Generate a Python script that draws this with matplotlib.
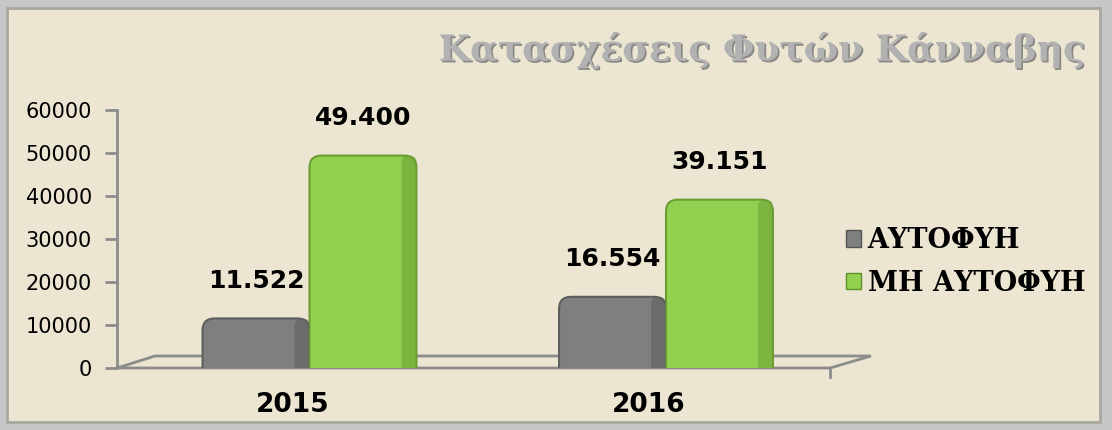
import matplotlib
matplotlib.use("Agg")
import matplotlib.pyplot as plt
import matplotlib.patheffects as pe
from matplotlib.patches import FancyBboxPatch, Rectangle, Patch, Polygon
from matplotlib.transforms import ScaledTranslation

# data
YEARS = ["2015", "2016"]
AUTOFYI = [11522, 16554]
MH_AUTOFYI = [49400, 39151]
SERIES_NAMES = ["ΑΥΤΟΦΥΗ", "ΜΗ ΑΥΤΟΦΥΗ"]
TITLE = "Κατασχέσεις Φυτών Κάνναβης"

GRAY = "#7F7F7F"
GREEN = "#92D050"
BG = "#EBE5D1"

W, H = 1112, 430
fig = plt.figure(figsize=(W / 100, H / 100), dpi=100, facecolor="#C6C6C6")

# beige panel with bevel-ish border
fig.patches.append(Rectangle((7 / W, 8 / H), 1093 / W, 414 / H, transform=fig.transFigure,
                             facecolor=BG, edgecolor="#A8A8A0", linewidth=2, zorder=-5))

ax = fig.add_axes([117 / W, 62 / H, 713 / W, 258 / H])
ax.set_facecolor("none")
ax.set_xlim(-0.54, 1.46)
ax.set_ylim(0, 60000)

xs = list(range(len(YEARS)))
bw = 0.3
b1 = ax.bar([x - bw / 2 for x in xs], AUTOFYI, bw, color=GRAY)
b2 = ax.bar([x + bw / 2 for x in xs], MH_AUTOFYI, bw, color=GREEN)

# rounded bars (radius ~12px), bottom corners pushed under the floor
px_x = 713 / 2.0
px_y = 258 / 60000
rx = 12 / px_x
ry = 12 / px_y
for bars, fc, side in ((b1, GRAY, "#5E5E5E"), (b2, GREEN, "#6B9E32")):
    for b in bars:
        x0, w, h = b.get_x(), b.get_width(), b.get_height()
        b.remove()
        ax.add_patch(FancyBboxPatch((x0, -ry), w, h + ry,
                                    boxstyle=f"round,pad=0,rounding_size={rx}",
                                    mutation_aspect=ry / rx, facecolor=fc,
                                    edgecolor=side, linewidth=1.5, zorder=3))
        # darker right edge for a bit of depth
        ax.add_patch(FancyBboxPatch((x0 + w * 0.86, -ry), w * 0.14, h + ry,
                                    boxstyle=f"round,pad=0,rounding_size={rx * 0.6}",
                                    mutation_aspect=ry / rx, facecolor=side,
                                    edgecolor="none", alpha=0.55, zorder=4))
        ax.annotate(f"{int(h):,}".replace(",", "."), xy=(x0 + w / 2, h),
                    xytext=(0, 27), textcoords="offset points", ha="center",
                    va="center", fontsize=18, fontweight="bold", color="black",
                    family="DejaVu Sans")

# floor (pseudo 3D)
floor = Polygon([(0, 0), (38 / 713, 12 / 258), (1 + 41 / 713, 12 / 258), (1, 0)],
                closed=True, transform=ax.transAxes, fill=False,
                edgecolor="#8C8C8C", linewidth=2, clip_on=False, zorder=2)
ax.add_patch(floor)
ax.plot([1, 1], [0, -9 / 258], transform=ax.transAxes, color="#8C8C8C",
        lw=2, clip_on=False)

for s in ("top", "right", "bottom"):
    ax.spines[s].set_visible(False)
ax.spines["left"].set_color("#8C8C8C")
ax.spines["left"].set_linewidth(2)
ax.tick_params(axis="y", direction="out", length=9, width=2, color="#8C8C8C",
               labelsize=15, pad=9)
ax.set_yticks(range(0, 60001, 10000))

ax.set_xticks(xs)
ax.set_xticklabels(YEARS, fontsize=19, fontweight="bold")
ax.tick_params(axis="x", length=0, pad=17)
offset = ScaledTranslation(-0.17, 0, fig.dpi_scale_trans)
for lbl in ax.get_xticklabels():
    lbl.set_transform(lbl.get_transform() + offset)

# legend
handles = [Patch(facecolor=GRAY, edgecolor="#555555"),
           Patch(facecolor=GREEN, edgecolor="#5E8F2A")]
fig.legend(handles, SERIES_NAMES, loc="center left",
           bbox_to_anchor=(846 / W, 1 - 262 / H), frameon=False,
           prop={"family": "DejaVu Serif", "weight": "bold", "size": 19.5},
           handlelength=0.55, handleheight=0.55, handletextpad=0.25,
           labelspacing=0.58, borderpad=0, borderaxespad=0)

# title
fig.text(762 / W, 1 - 50 / H, TITLE, ha="center", va="center", fontsize=26,
         family="DejaVu Serif", fontweight="bold", color="#B2B2B2",
         path_effects=[pe.withSimplePatchShadow(offset=(1.2, -1.2), shadow_rgbFace="#707070", alpha=0.8)])

fig.savefig("out.png", dpi=100, facecolor=fig.get_facecolor())
